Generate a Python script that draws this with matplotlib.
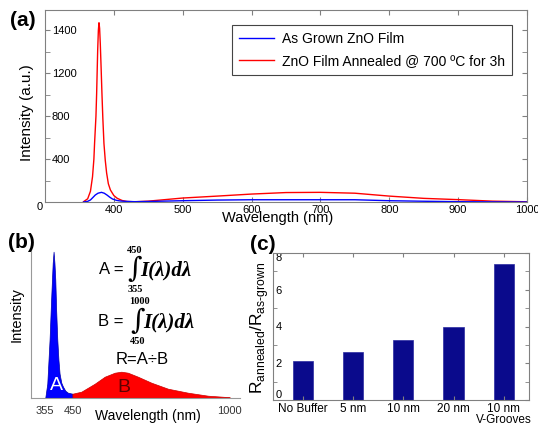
import matplotlib
matplotlib.use("Agg")
import matplotlib.pyplot as plt

plt.rcParams['font.family'] = ['Liberation Sans', 'DejaVu Sans']

# ---------- Data: panel (a) PL spectra ----------
red_wl = [356, 362, 366, 369, 371, 372, 374, 375, 376.5, 377.5, 378.4, 379.3, 380.3,
          381.5, 382.7, 384, 385.6, 387.5, 389.5, 392, 395, 400, 405, 412, 419, 430,
          450, 500, 550, 600, 650, 700, 750, 800, 850, 900, 950, 1000]
red_int = [3, 30, 100, 235, 400, 548, 800, 1013, 1413, 1600, 1671, 1620, 1476,
           1250, 1011, 780, 546, 390, 270, 170, 112, 60, 34, 14, 5, 2,
           8, 37, 55, 74, 88, 90, 82, 55, 34, 22, 8, 2]
blue_wl = [356, 362, 366, 370, 373, 377, 382, 386, 390, 394, 398, 404, 410, 420, 430,
           450, 500, 550, 600, 700, 750, 800, 850, 900, 950, 1000]
blue_int = [0, 6, 19, 45, 65, 82, 90, 82, 65, 45, 28, 15, 9, 5, 3,
            5, 12, 18, 21, 21, 21, 12, 7, 3, 1, 0]
legend_labels = ["As Grown ZnO Film", "ZnO Film Annealed @ 700 \u00baC for 3h"]
a_xticks = [400, 500, 600, 700, 800, 900, 1000]
a_yticks = [400, 800, 1200, 1600]
a_yticklabels = ["400", "800", "1200", "1400"]
a_yminor = [200, 600, 1000, 1400]

# ---------- Data: panel (b) schematic ----------
b_blue_wl = [355, 362, 370, 375, 378.4, 381, 384, 387, 390, 393, 397, 401, 405, 411,
             417, 425, 434, 450]
b_blue_int = [0, 14, 58, 95, 118, 135, 146, 135, 118, 88, 58, 38, 24, 15, 11, 7, 5, 4]
b_red_wl = [450, 481, 528, 563, 598, 621, 644, 679, 726, 784, 854, 924, 1000]
b_red_int = [4, 6, 14, 21, 25, 26, 25, 21, 15, 9, 5, 2, 0.5]
b_xticks = [355, 450, 1000]

# ---------- Data: panel (c) ratio ----------
samples = ["No Buffer", "5 nm", "10 nm", "20 nm", "10 nm\nV-Grooves"]
ratio = [2.13, 2.61, 3.28, 3.96, 7.42]

W, H = 538, 424
GRAY = "#808080"


def box(l, t, r, b):
    """Axes rectangle from pixel edges (origin top-left)."""
    return [l / W, 1 - b / H, (r - l) / W, (b - t) / H]


def ftext(x, y, s, **kw):
    """Figure text placed by pixel position (origin top-left)."""
    kw.setdefault("ha", "center")
    kw.setdefault("va", "center")
    return fig.text(x / W, 1 - y / H, s, **kw)


fig = plt.figure(figsize=(W / 100, H / 100), dpi=100)

# ---------- (a) ----------
ax_a = fig.add_axes(box(45, 10, 527, 202))
line_r, = ax_a.plot(red_wl, red_int, color="#ff0000", lw=1)
line_b, = ax_a.plot(blue_wl, blue_int, color="#0000ff", lw=1)
ax_a.set_xlim(300, 1000)
ax_a.set_ylim(0, 1790)
ax_a.set_xticks(a_xticks)
ax_a.set_yticks(a_yticks)
ax_a.set_yticklabels(a_yticklabels)
ax_a.set_yticks(a_yminor, minor=True)
ax_a.tick_params(which="both", direction="in", top=True, right=True,
                 length=3.5, color=GRAY, labelsize=8)
ax_a.tick_params(axis="x", pad=2)
ax_a.tick_params(axis="y", pad=-5)
for lab in ax_a.get_yticklabels():
    lab.set_ha("left")
for sp in ax_a.spines.values():
    sp.set_color(GRAY)
leg = ax_a.legend([line_b, line_r], legend_labels, loc="upper right",
                  bbox_to_anchor=(512 / W, 1 - 25 / H), bbox_transform=fig.transFigure,
                  borderaxespad=0, fancybox=False, edgecolor="#444444", framealpha=1,
                  fontsize=10, handlelength=2.5, handletextpad=0.6,
                  labelspacing=0.6, borderpad=0.5)
leg.get_frame().set_linewidth(0.8)
ftext(40, 207, "0", size=8)
ftext(278, 218, "Wavelength (nm)", size=10.5)
ftext(27, 113, "Intensity (a.u.)", size=11, rotation=90)
ftext(23, 20, "(a)", size=15, weight="bold")

# ---------- (b) ----------
ax_b = fig.add_axes(box(30.7, 245, 240, 397.7))
ax_b.fill_between(b_blue_wl, b_blue_int, color="#0000ff", lw=0.5, edgecolor="#0000aa")
ax_b.fill_between(b_red_wl, b_red_int, color="#ff0000", lw=0.5, edgecolor="#cc0000")
ax_b.set_xlim(304, 1036)
ax_b.set_ylim(0, 152.7)
ax_b.set_xticks(b_xticks)
ax_b.set_yticks([])
ax_b.tick_params(axis="x", length=0, pad=6, labelsize=8, labelcolor="#333333")
for side in ["top", "right"]:
    ax_b.spines[side].set_visible(False)
for side in ["left", "bottom"]:
    ax_b.spines[side].set_color("#999999")

ftext(148, 416, "Wavelength (nm)", size=10)
ftext(17, 315, "Intensity", size=10.5, rotation=90)
ftext(21, 243, "(b)", size=15, weight="bold")
ftext(56, 385, "A", size=14, color="white")
ftext(124, 387, "B", size=14, color="#600000")

serif = dict(family=["Liberation Serif", "DejaVu Serif"], weight="bold")
# A = integral 355..450
ftext(99, 270, "A =", size=12, ha="left")
ftext(135, 270, "\u222b", size=20, family=["DejaVu Serif"])
ftext(140, 270, "I(\u03bb)d\u03bb", size=15, ha="left", style="italic", **serif)
ftext(135, 250, "450", size=7.5, **serif)
ftext(135, 290, "355", size=7.5, **serif)
# B = integral 450..1000
ftext(98, 322, "B =", size=12, ha="left")
ftext(138, 322, "\u222b", size=20, family=["DejaVu Serif"])
ftext(143, 322, "I(\u03bb)d\u03bb", size=15, ha="left", style="italic", **serif)
ftext(139, 302, "1000", size=7.5, **serif)
ftext(138, 342, "450", size=7.5, **serif)
ftext(142, 360, "R=A\u00f7B", size=12)

# ---------- (c) ----------
ax_c = fig.add_axes(box(273, 253, 529, 400))
x = list(range(len(samples)))
ax_c.bar(x, ratio, width=0.4, color="#0a0a8c", edgecolor="#2a2aa0", lw=0.5)
ax_c.set_xlim(-0.59, 4.5)
ax_c.set_ylim(0, 8)
ax_c.set_xticks(x)
ax_c.set_xticklabels(samples, fontsize=8.5, linespacing=0.95)
ax_c.set_yticks([0, 2, 4, 6, 8])
ax_c.set_yticks([1, 3, 5, 7], minor=True)
ax_c.tick_params(which="both", direction="in", top=True, right=True,
                 length=3, color=GRAY)
ax_c.tick_params(axis="x", pad=2)
ax_c.tick_params(axis="y", which="major", left=False, pad=-2, labelsize=8)
ylabs = ax_c.get_yticklabels()
for lab in ylabs:
    lab.set_ha("left")
ylabs[0].set_va("bottom")
ylabs[-1].set_va("top")
for sp in ax_c.spines.values():
    sp.set_color(GRAY)
ftext(260, 328, "R$_{\\mathregular{annealed}}$/R$_{\\mathregular{as\u2010grown}}$",
      size=12.5, rotation=90)
ftext(263, 245, "(c)", size=15, weight="bold")

fig.savefig("out.png", dpi=100)
